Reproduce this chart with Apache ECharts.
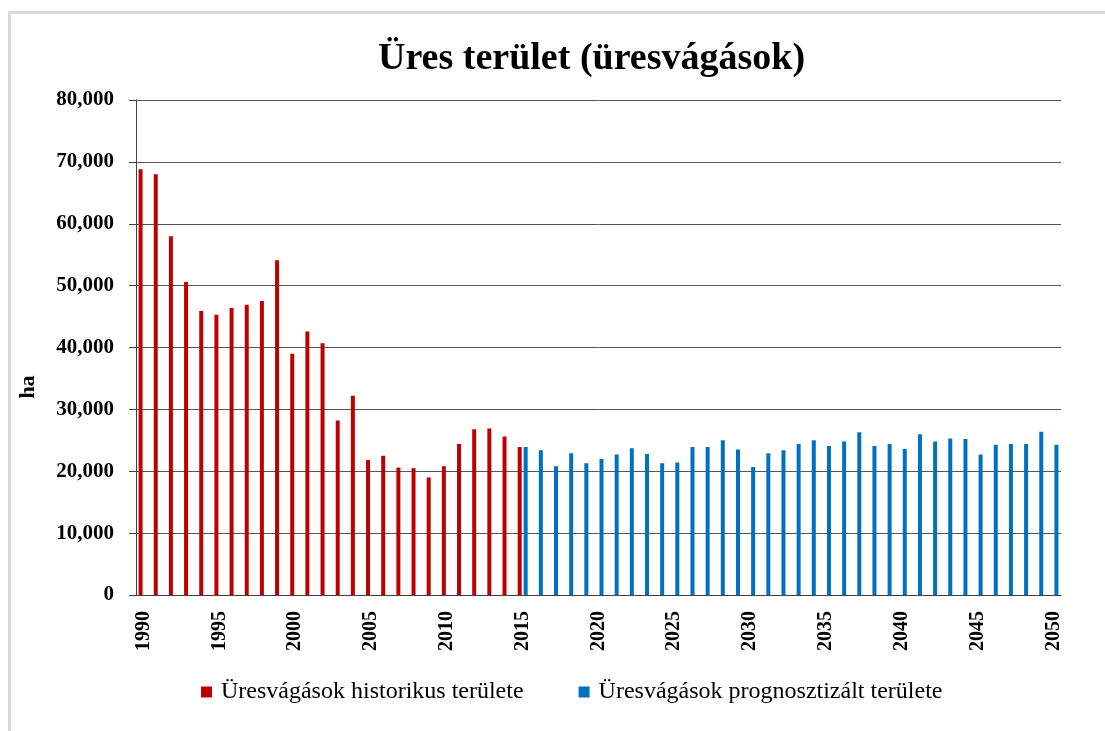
<!DOCTYPE html>
<html>
<head>
<meta charset="utf-8">
<script src="https://cdn.jsdelivr.net/npm/echarts@6/dist/echarts.min.js"></script>
<style>
html,body{margin:0;padding:0;background:#fff;}
#chart{width:1105px;height:731px;}
</style>
</head>
<body>
<div id="chart"></div>
<script>
const years = [1990,1991,1992,1993,1994,1995,1996,1997,1998,1999,2000,2001,2002,2003,2004,2005,2006,2007,2008,2009,2010,
  2011,2012,2013,2014,2015,2016,2017,2018,2019,2020,2021,2022,2023,2024,2025,2026,2027,2028,2029,2030,
  2031,2032,2033,2034,2035,2036,2037,2038,2039,2040,2041,2042,2043,2044,2045,2046,2047,2048,2049,2050];
// 1990–2015
const historical = [68800,68000,58000,50600,45900,45300,46400,46900,47500,54100,39000,42600,40700,28200,32200,
  21800,22500,20600,20500,19000,20800,24400,26800,26900,25600,23900];
// 2015–2050
const forecast = [23900,23400,20800,22900,21300,22000,22700,23700,22800,21300,21400,23900,23900,25000,23500,20700,
  22900,23400,24400,25000,24100,24800,26300,24100,24400,23600,26000,24800,25300,25200,22700,24300,24400,24400,26400,24300];
const yTicks = [0,10000,20000,30000,40000,50000,60000,70000,80000];
const seriesNames = ['Üresvágások historikus területe','Üresvágások prognosztizált területe'];
const yAxisName = 'ha';

const histStart = years.indexOf(1990);
const foreStart = years.indexOf(2015);
const redData = years.map((y,i)=> (i-histStart>=0 && i-histStart<historical.length) ? historical[i-histStart] : null);
const blueData = years.map((y,i)=> (i-foreStart>=0 && i-foreStart<forecast.length) ? forecast[i-foreStart] : null);

const FONT = 'Liberation Serif';
const chart = echarts.init(document.getElementById('chart'));
chart.setOption({
  animation:false,
  backgroundColor:'#fff',
  title:{
    text:'Üres terület (üresvágások)',
    left:373, top:35,
    textStyle:{fontFamily:FONT,fontSize:38,fontWeight:'bold',color:'#000'}
  },
  legend:{
    left:201, top:680, padding:0,
    icon:'rect', itemWidth:11, itemHeight:11, itemGap:55,
    textStyle:{fontFamily:FONT,fontSize:24,color:'#000',padding:[0,0,0,4]},
    data:seriesNames
  },
  graphic:[
    {type:'line',shape:{x1:8,y1:12.5,x2:1105,y2:12.5},style:{stroke:'#d9d9d9',lineWidth:3}},
    {type:'line',shape:{x1:9.5,y1:11,x2:9.5,y2:731},style:{stroke:'#d9d9d9',lineWidth:3}},
    {type:'text',x:28,y:387,rotation:Math.PI/2,
      style:{text:yAxisName,fontFamily:FONT,fontSize:22,fontWeight:'bold',fill:'#000',align:'center',verticalAlign:'middle'}}
  ],
  grid:{left:136,right:44,top:100,bottom:136},
  xAxis:{
    type:'category',
    data:years,
    axisLine:{lineStyle:{color:'#404040',width:1}},
    axisTick:{interval:0,length:6,lineStyle:{color:'#404040'}},
    axisLabel:{
      interval:4, rotate:90, margin:16,
      fontFamily:FONT,fontSize:20,fontWeight:'bold',color:'#000'
    }
  },
  yAxis:{
    type:'value',
    min:yTicks[0], max:yTicks[yTicks.length-1], interval:yTicks[1]-yTicks[0],
    axisLine:{show:true,lineStyle:{color:'#404040'}},
    axisTick:{show:true,length:7,lineStyle:{color:'#404040'}},
    splitLine:{lineStyle:{color:'#555',width:1}},
    axisLabel:{
      margin:22,fontFamily:FONT,fontSize:21,fontWeight:'bold',color:'#000',
      formatter:v=>v.toLocaleString('en-US')
    }
  },
  series:[
    {name:seriesNames[0],type:'bar',data:redData,barWidth:4,barGap:'50%',itemStyle:{color:'#C00000'}},
    {name:seriesNames[1],type:'bar',data:blueData,barWidth:4,barGap:'50%',itemStyle:{color:'#0070C0'}}
  ]
});
</script>
</body>
</html>
